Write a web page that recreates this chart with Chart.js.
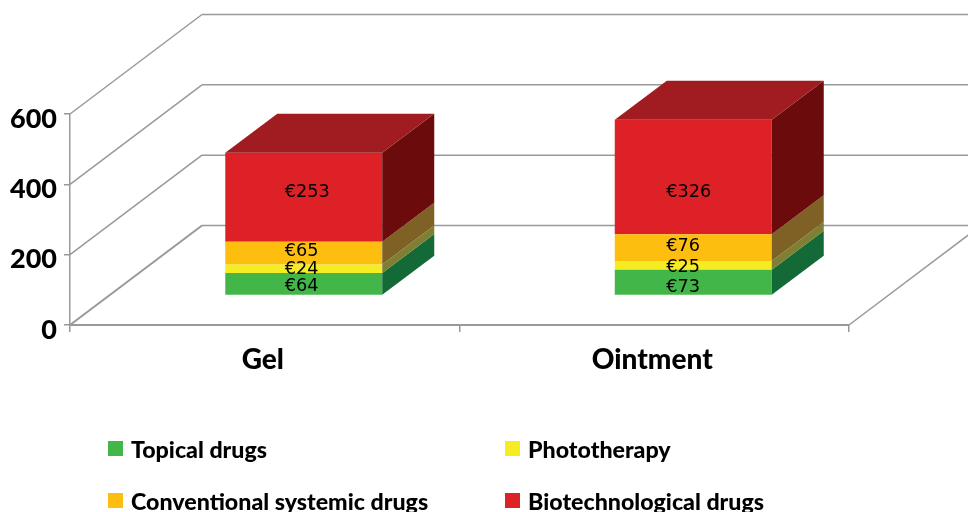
<!DOCTYPE html>
<html>
<head>
<meta charset="utf-8">
<style>html,body{margin:0;padding:0;background:#fff;overflow:hidden}canvas{display:block}</style>
<script src="https://cdn.jsdelivr.net/npm/chart.js@4"></script>
</head>
<body>
<canvas id="c" width="968" height="512"></canvas>
<script>
const categories = ["Gel", "Ointment"];
const yTicks = [0, 200, 400, 600];
const topicalDrugs = [64, 73];
const phototherapy = [24, 25];
const conventionalSystemicDrugs = [65, 76];
const biotechnologicalDrugs = [253, 326];
const seriesNames = ["Topical drugs", "Phototherapy", "Conventional systemic drugs", "Biotechnological drugs"];

const frontColors = ["#42b649", "#f5ec22", "#fdbe0f", "#de2027"];
const sideColors = ["#136a36", "#7e7f33", "#7f6125", "#6b0b0c"];
const topColor = "#a01c20";
const gridColor = "#999999";
const wall = {dx: 132, dy: 99.5};
const barShift = {dx: 39, dy: 29.5};
const barDepth = {dx: 52, dy: 39};
const labelFont = '17.7px "DejaVu Sans"';
const labelOffsetX = [-19, -27];
const labelOffsetY = [[2.5, 0.5, -1.5, -4.5], [5.5, 1.5, -1.5, 15.5]];
const legendCells = [[108, 441], [505, 441], [108, 493], [505, 493]];

const threeD = {
  id: "threeD",
  beforeDatasetsDraw(chart) {
    const ctx = chart.ctx, y = chart.scales.y, a = chart.chartArea;
    ctx.save();
    ctx.strokeStyle = gridColor;
    yTicks.forEach(v => {
      const p = y.getPixelForValue(v);
      ctx.lineWidth = v === 0 ? 2 : 1.5;
      ctx.beginPath();
      ctx.moveTo(a.left, p);
      ctx.lineTo(a.left + wall.dx, p - wall.dy);
      ctx.stroke();
      ctx.lineWidth = 1.5;
      ctx.beginPath();
      ctx.moveTo(a.left + wall.dx, p - wall.dy);
      ctx.lineTo(a.right + wall.dx, p - wall.dy);
      ctx.stroke();
    });
    const p0 = y.getPixelForValue(0);
    ctx.lineWidth = 1.5;
    ctx.beginPath();
    ctx.moveTo(a.right, p0);
    ctx.lineTo(a.right + wall.dx, p0 - wall.dy);
    ctx.stroke();
    ctx.restore();
    ctx.save();
    ctx.translate(barShift.dx, -barShift.dy);
  },
  afterDatasetsDraw(chart) {
    const ctx = chart.ctx;
    const n = chart.data.datasets.length;
    chart.data.datasets.forEach((ds, i) => {
      chart.getDatasetMeta(i).data.forEach(bar => {
        const b = bar.getProps(["x", "y", "base", "width"], true);
        const r = b.x + b.width / 2, l = b.x - b.width / 2;
        ctx.fillStyle = sideColors[i];
        ctx.beginPath();
        ctx.moveTo(r, b.y);
        ctx.lineTo(r + barDepth.dx, b.y - barDepth.dy);
        ctx.lineTo(r + barDepth.dx, b.base - barDepth.dy);
        ctx.lineTo(r, b.base);
        ctx.closePath();
        ctx.fill();
        if (i === n - 1) {
          ctx.fillStyle = topColor;
          ctx.beginPath();
          ctx.moveTo(l, b.y);
          ctx.lineTo(l + barDepth.dx, b.y - barDepth.dy);
          ctx.lineTo(r + barDepth.dx, b.y - barDepth.dy);
          ctx.lineTo(r, b.y);
          ctx.closePath();
          ctx.fill();
        }
      });
    });
    ctx.fillStyle = "#000";
    ctx.font = labelFont;
    ctx.textBaseline = "middle";
    ctx.textAlign = "left";
    chart.data.datasets.forEach((ds, i) => {
      chart.getDatasetMeta(i).data.forEach((bar, j) => {
        const b = bar.getProps(["x", "y", "base"], true);
        ctx.fillText("€" + ds.data[j], b.x + labelOffsetX[j], (b.y + b.base) / 2 + labelOffsetY[j][i]);
      });
    });
    ctx.restore();
  },
  afterDraw(chart) {
    const ctx = chart.ctx;
    ctx.save();
    ctx.font = '900 23.2px Lato';
    ctx.textBaseline = "middle";
    ctx.textAlign = "left";
    chart.data.datasets.forEach((ds, i) => {
      const [x, y] = legendCells[i];
      ctx.fillStyle = ds.backgroundColor;
      ctx.fillRect(x, y, 15, 15);
      ctx.fillStyle = "#000";
      ctx.fillText(ds.label, x + 23, y + 10);
    });
    ctx.restore();
  }
};

const seriesValues = [topicalDrugs, phototherapy, conventionalSystemicDrugs, biotechnologicalDrugs];

new Chart(document.getElementById("c"), {
  type: "bar",
  data: {
    labels: categories,
    datasets: seriesValues.map((data, i) => ({
      label: seriesNames[i],
      data,
      backgroundColor: frontColors[i],
      borderWidth: 0,
      clip: false,
      categoryPercentage: 0.403,
      barPercentage: 1
    }))
  },
  plugins: [threeD],
  options: {
    responsive: false,
    animation: false,
    layout: {padding: {top: 114, right: 119, left: 0, bottom: 0}},
    plugins: {legend: {display: false}, tooltip: {enabled: false}, title: {display: false}},
    scales: {
      x: {
        stacked: true,
        afterFit(s) { s.height = 187; },
        grid: {drawOnChartArea: false, color: gridColor, lineWidth: 1.5, tickLength: 7, offset: true},
        border: {color: gridColor, width: 2},
        ticks: {color: "#000", font: {family: "Lato", weight: "900", size: 28}, padding: 11, labelOffset: -2, maxRotation: 0}
      },
      y: {
        stacked: true,
        min: 0,
        max: 600,
        afterFit(s) { s.width = 70; },
        afterBuildTicks(s) { s.ticks = yTicks.map(value => ({value})); },
        grid: {drawOnChartArea: false, color: gridColor, lineWidth: 1.5, tickLength: 6},
        border: {color: gridColor, width: 1.5},
        ticks: {color: "#000", font: {family: "Lato", weight: "900", size: 27}, padding: 7, labelOffset: 5}
      }
    }
  }
});
</script>
</body>
</html>
